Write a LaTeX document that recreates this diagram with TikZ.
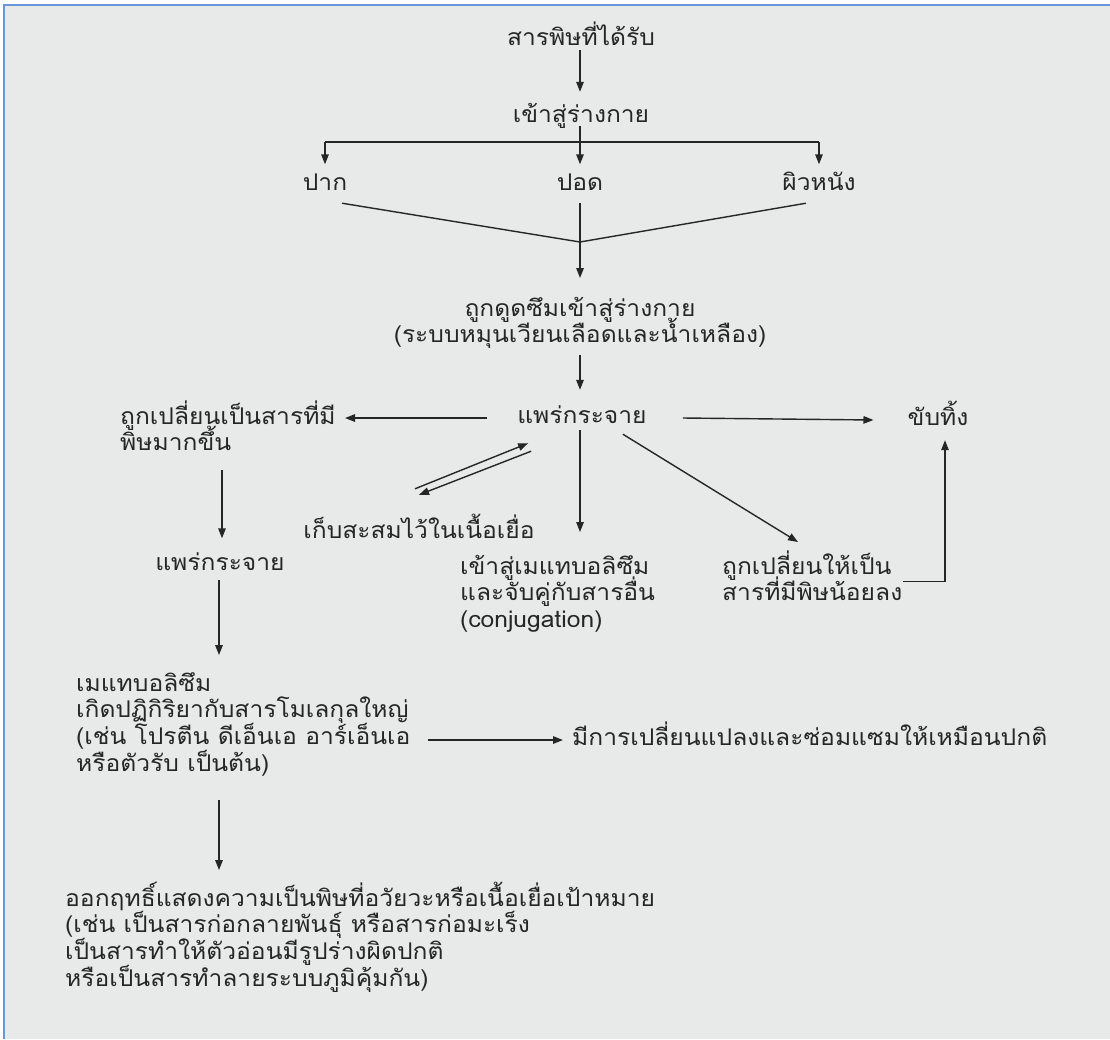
\documentclass[tikz,border=0pt]{standalone}
\usepackage{fontspec}
\newfontfamily\thaifont[Script=Thai,FakeStretch=1.07]{Loma}
\usetikzlibrary{arrows.meta}
\definecolor{paper}{RGB}{232,234,233}
\definecolor{frameblue}{RGB}{104,150,218}
\definecolor{ink}{RGB}{38,38,38}
\begin{document}
\begin{tikzpicture}[x=1pt,y=-1pt,
	lbl/.style={font=\thaifont\fontsize{23}{26.7}\selectfont, text=ink, text height=14pt, text depth=3pt},
	mlbl/.style={font=\thaifont\fontsize{23}{26.7}\selectfont, text=ink, align=left, anchor=base west,
		execute at begin node={\lineskiplimit=-50pt}},
	arr/.style={draw=ink, line width=1.4pt, -{Triangle[length=10pt,width=7.5pt]}},
	ln/.style={draw=ink, line width=1.4pt}]
	\tikzstyle{every node}+=[inner sep=0pt]
	\fill [white] (0,0) rectangle (1110,1039);
	\fill [paper] (4,5) rectangle (1110,1039);
	\useasboundingbox (0,0) rectangle (1110,1039);
	\draw [frameblue, line width=2.5pt] (4,1039) -- (4,5) -- (1110,5);

	\node [lbl] (poison) at (581,40) {สารพิษที่ได้รับ};
	\node [lbl] (enter) at (581,117) {เข้าสู่ร่างกาย};
	\node [lbl] (mouth) at (325,185) {ปาก};
	\node [lbl] (lung) at (580,185) {ปอด};
	\node [lbl] (skin) at (819,185) {ผิวหนัง};
	\node [mlbl, align=center, anchor=base] (absorb) at (580,342.7) {ถูกดูดซึมเข้าสู่ร่างกาย\\(ระบบหมุนเวียนเลือดและน้ำเหลือง)};
	\node [lbl] (spread) at (582,418) {แพร่กระจาย};
	\node [mlbl] (toxic) at (120,450.7) {ถูกเปลี่ยนเป็นสารที่มี\\พิษมากขึ้น};
	\node [lbl] (excrete) at (938,420) {ขับทิ้ง};
	\node [lbl] (store) at (419,533) {เก็บสะสมไว้ในเนื้อเยื่อ};
	\node [lbl] (spreadL) at (220,565) {แพร่กระจาย};
	\node [mlbl] (conj) at (460,627.4) {เข้าสู่เมแทบอลิซึม\\และจับคู่กับสารอื่น\\(conjugation)};
	\node [mlbl] (less) at (722,600.7) {ถูกเปลี่ยนให้เป็น\\สารที่มีพิษน้อยลง};
	\node [mlbl] (meta) at (76,771.1) {เมแทบอลิซึม\\เกิดปฏิกิริยากับสารโมเลกุลใหญ่\\(เช่น โปรตีน ดีเอ็นเอ อาร์เอ็นเอ\\หรือตัวรับ เป็นต้น)};
	\node [lbl, anchor=west] (repair) at (572,740) {มีการเปลี่ยนแปลงและซ่อมแซมให้เหมือนปกติ};
	\node [mlbl] (effect) at (65,986.1) {ออกฤทธิ์แสดงความเป็นพิษที่อวัยวะหรือเนื้อเยื่อเป้าหมาย\\(เช่น เป็นสารก่อกลายพันธุ์ หรือสารก่อมะเร็ง\\เป็นสารทำให้ตัวอ่อนมีรูปร่างผิดปกติ\\หรือเป็นสารทำลายระบบภูมิคุ้มกัน)};

	\coordinate (barL) at (325,142);
	\coordinate (barR) at (819,142);
	\coordinate (vj) at (580,242);
	\draw [arr] ([yshift=-1.5pt,xshift=-1pt]poison.south) -- ([xshift=-1pt,yshift=16.5pt]enter.north);
	\draw [ln] (barL) -- (barR);
	\draw [arr] (barL) -- ([yshift=12pt]mouth.north);
	\draw [arr] (barR) -- ([yshift=12pt]skin.north);
	\draw [arr] ([xshift=-1pt]enter.south) -- ([yshift=12pt]lung.north);
	\draw [ln] ([xshift=17pt,yshift=-9.5pt]mouth.south) -- (vj) -- ([xshift=-13pt,yshift=-9.5pt]skin.south);
	\draw [arr] ([yshift=-9.5pt]lung.south) -- ([yshift=64.7pt]absorb.base);
	\draw [arr] ([yshift=-6pt]absorb.south) -- ([xshift=-2pt,yshift=19.5pt]spread.north);
	\draw [arr] ([xshift=-30pt]spread.west) -- ([xshift=225pt,yshift=32.7pt]toxic.base west);
	\draw [arr] ([xshift=36pt]spread.east) -- ([xshift=-34pt]excrete.west);
	\draw [arr] ([xshift=-4pt,yshift=35.5pt]store.north) -- ([xshift=11pt,yshift=-16.5pt]spread.south west);
	\draw [arr] ([xshift=14pt,yshift=-24.5pt]spread.south west) -- ([xshift=0pt,yshift=29.5pt]store.north);
	\draw [arr] ([xshift=-2pt,yshift=-3.5pt]spread.south) -- ([xshift=120pt,yshift=95.4pt]conj.base west);
	\draw [arr] ([xshift=-24pt,yshift=-7.5pt]spread.south east) -- ([xshift=76pt,yshift=58.7pt]less.base west);
	\draw [arr] ([xshift=181pt,yshift=19pt]less.base west) -| ([xshift=7pt,yshift=-11.5pt]excrete.south);
	\draw [arr] ([xshift=102pt,yshift=-19.3pt]toxic.base west) -- ([xshift=2pt,yshift=18pt]spreadL.north);
	\draw [arr] ([xshift=-1pt,yshift=-6.5pt]spreadL.south) -- ([xshift=143pt,yshift=116.1pt]meta.base west);
	\draw [arr, shorten >=9pt] ([xshift=352pt,yshift=31.1pt]meta.base west) -- (repair.west);
	\draw [arr] ([xshift=143pt,yshift=-28.9pt]meta.base west) -- ([xshift=154pt,yshift=116.1pt]effect.base west);

\end{tikzpicture}
\end{document}
